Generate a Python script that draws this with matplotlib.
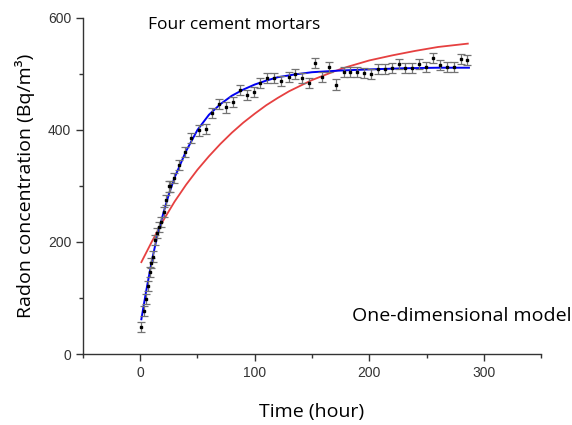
import numpy as np
import matplotlib
matplotlib.use('Agg')
import matplotlib.pyplot as plt
from matplotlib.ticker import MultipleLocator

# measured radon concentration (four cement mortars)
t_meas = [0.9, 3.2, 5.0, 6.7, 8.5, 9.6, 10.8, 12.9, 14.9, 16.7, 18.4, 20.4, 22.5, 24.8,
          26.3, 29.8, 34.2, 38.9, 44.7, 51.2, 57.6, 62.9, 69.0, 75.2, 81.3, 87.1, 93.3,
          99.1, 105, 111, 117, 123, 129.5, 135, 141, 147, 153, 159, 165, 171, 177.5,
          183, 189, 195, 201.5, 207.6, 213.5, 219.6, 225.7, 231.6, 237.7, 243.6, 249.4,
          255.5, 261.7, 267.5, 273.7, 279.8, 285.7]
c_meas = [49, 76, 99, 121, 147, 162, 174, 204, 216, 227, 236, 254, 275, 299,
          299, 314, 337, 361, 385, 399, 401, 430, 447, 440, 449, 471, 462,
          468, 484, 492, 492, 488, 494, 499, 492, 483, 519, 495, 513, 481, 503,
          503, 503, 501, 499, 509, 509, 510, 517, 511, 510, 518, 513,
          528, 516, 513, 513, 526, 525]
c_err = 9

# fitted curve (blue)
t_fit = [1, 5, 10, 15, 20, 25, 30, 40, 50, 60, 70, 80, 90, 100, 110, 120, 135, 150,
         175, 200, 230, 260, 287]
c_fit = [62, 110, 165, 212, 250, 285, 315, 362, 400, 427, 446, 461, 472, 481, 488, 494,
         499, 503, 506, 508, 510, 511, 511]

# one-dimensional model (red)
t_model = [1, 10, 20, 30, 40, 50, 60, 70, 80, 90, 100, 110, 120, 130, 140, 150, 160,
           170, 180, 190, 200, 220, 240, 260, 286]
c_model = [164, 200, 238, 272, 302, 329, 353, 375, 395, 413, 429, 444, 457, 469, 479,
           489, 497, 505, 512, 518, 524, 533, 541, 548, 554]

fig = plt.figure(figsize=(5.72, 4.25), dpi=100)
ax = fig.add_axes([0.145, 0.167, 0.801, 0.791])

ax.plot(t_model, c_model, '-', color=(0.9, 0.25, 0.25), linewidth=1.3)
ax.plot(t_fit, c_fit, '-', color=(0.0, 0.0, 0.95), linewidth=1.4)
ax.errorbar(t_meas, c_meas, yerr=c_err, fmt='s', color='black', markersize=1.8,
            ecolor=(0.45, 0.45, 0.45), elinewidth=0.9, capsize=3, capthick=0.9)

ax.set_xlim(-50, 350)
ax.set_ylim(0, 600)
ax.spines['top'].set_visible(False)
ax.spines['right'].set_visible(False)
for sp in ['left', 'bottom']:
    ax.spines[sp].set_linewidth(1.0)
    ax.spines[sp].set_color('#333333')

ax.xaxis.set_major_locator(MultipleLocator(100))
ax.xaxis.set_minor_locator(MultipleLocator(50))
ax.yaxis.set_major_locator(MultipleLocator(200))
ax.yaxis.set_minor_locator(MultipleLocator(100))
ax.tick_params(which='major', direction='out', length=5, width=1, color='#333333',
               labelsize=10, labelcolor='#333333')
ax.tick_params(which='minor', direction='out', length=3, width=1, color='#333333')
for lab in ax.get_xticklabels() + ax.get_yticklabels():
    lab.set_fontfamily('Liberation Sans')

ax.set_xlabel('Time (hour)', fontsize=14, fontfamily='Open Sans', labelpad=17)
ax.set_ylabel('Radon concentration (Bq/m³)', fontsize=14, fontfamily='Open Sans', labelpad=9)

ax.text(0.142, 0.979, 'Four cement mortars', transform=ax.transAxes, fontsize=12.5,
        fontfamily='Open Sans', va='center', ha='left')
ax.text(0.587, 0.113, 'One-dimensional model', transform=ax.transAxes, fontsize=14,
        fontfamily='Open Sans', va='center', ha='left')

fig.savefig('out.png', dpi=100)
